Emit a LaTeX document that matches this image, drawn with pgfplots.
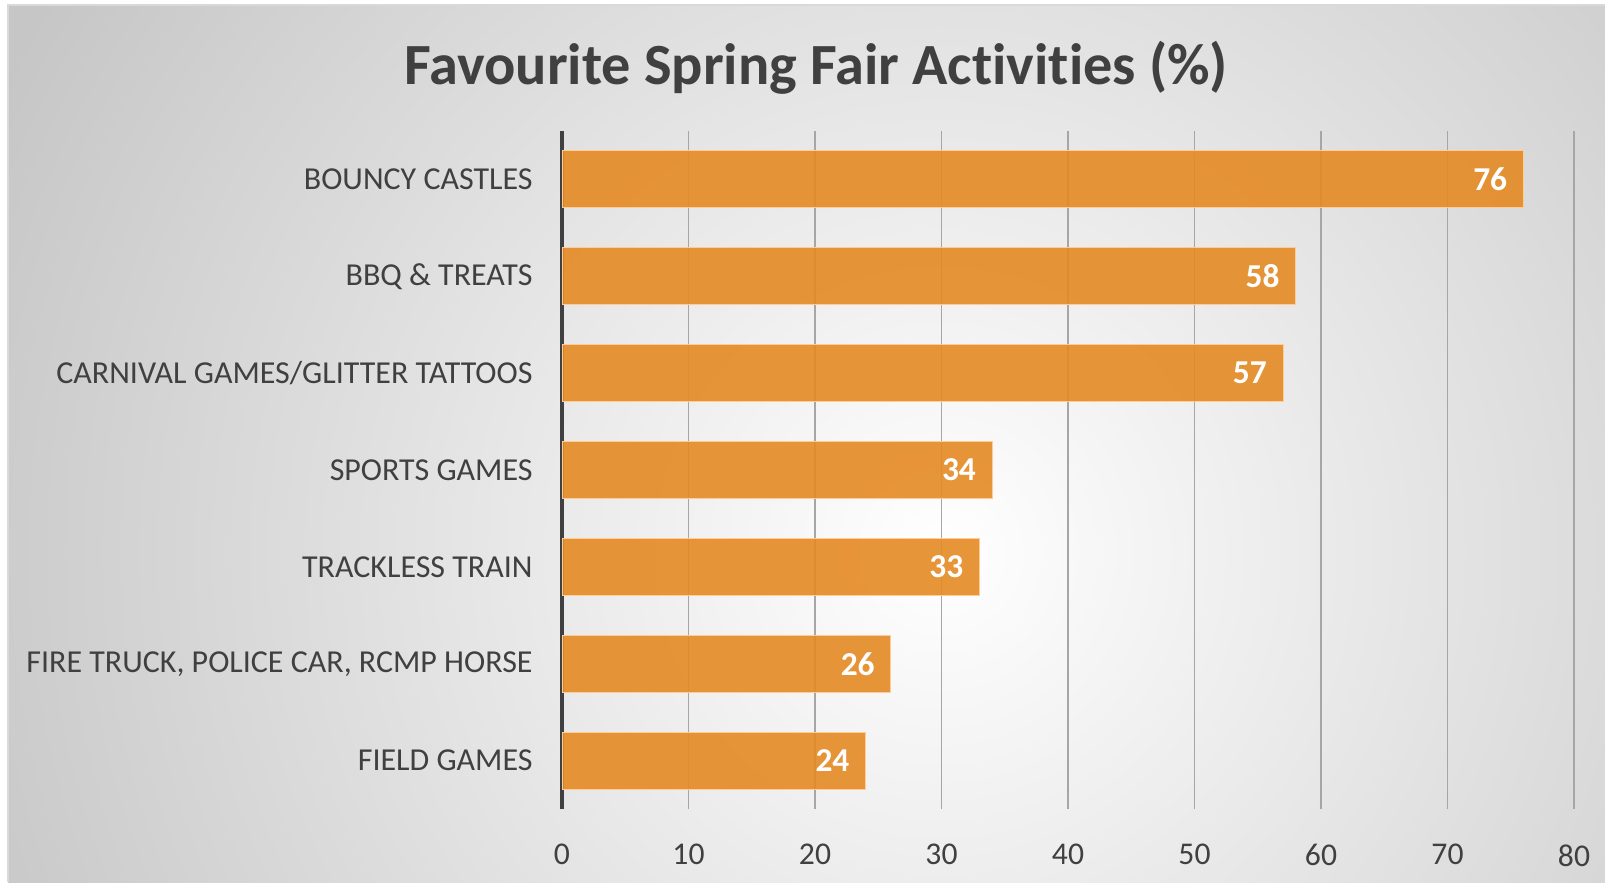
\documentclass[border=0pt]{standalone}
\usepackage{fontspec}
\setmainfont{Carlito}[Ligatures=NoCommon]
\usepackage{pgfplots}
\pgfplotsset{compat=1.18}
\definecolor{barorange}{HTML}{E58A24}
\definecolor{txt}{HTML}{404040}
\definecolor{gridgray}{HTML}{A6A6A6}
\definecolor{bgout}{HTML}{C6C6C6}
% edge of the shaded path sits at 25bp
\pgfdeclareradialshading{bgshade}{\pgfpoint{0bp}{0bp}}{color(0bp)=(white); color(25bp)=(bgout); color(50bp)=(bgout)}

\begin{document}
\begin{tikzpicture}
\path[use as bounding box] (0,0) rectangle (16.05,8.82);
\fill[white] (0,0) rectangle (16.05,8.82);
\begin{scope}
  \clip (0.08,0) rectangle (16.05,8.77);
  \fill[bgout] (0,0) rectangle (16.05,8.82);
  \shade[shading=bgshade] (9.4,3.3) ellipse (10.5 and 10.5);
\end{scope}
\draw[gray!30,line width=0.3pt] (0.08,0) -- (0.08,8.77) -- (16.05,8.77);

\node[font=\fontsize{16.6}{19}\selectfont\bfseries,text=txt] at (8.16,8.14)
  {Favourite Spring Fair Activities (\%)};

\begin{axis}[at={(5.62cm,0.73cm)},anchor=south west,
  width=10.12cm,height=6.78cm,scale only axis,
  xbar,bar width=0.57cm,
  xmin=0,xmax=80,ymin=-0.5,ymax=6.5,
  xtick={0,10,...,80},ytick={0,...,6},
  yticklabels={FIELD GAMES,{FIRE TRUCK, POLICE CAR, RCMP HORSE},TRACKLESS TRAIN,SPORTS GAMES,{CARNIVAL GAMES/GLITTER TATTOOS},BBQ \& TREATS,BOUNCY CASTLES},
  axis lines*=left,
  x axis line style={draw=none},
  y axis line style={draw=txt,line width=0.9pt},
  major tick length=0pt,
  xmajorgrids,grid style={gridgray,line width=0.45pt},
  /pgf/number format/assume math mode=true,
  xticklabel style={font=\fontsize{9}{10}\selectfont,text=txt,yshift=-0.23cm},
  yticklabel style={font=\fontsize{9.1}{11}\selectfont,text=txt,xshift=-0.17cm},
  nodes near coords,
  every node near coord/.append style={anchor=east,xshift=-0.04cm,text=white,
    font=\fontsize{9.5}{11}\selectfont\bfseries,fill opacity=1,text opacity=1},
]
\addplot[fill=barorange,fill opacity=0.9,draw=orange!40,line width=0.3pt]
  coordinates {(24,0) (26,1) (33,2) (34,3) (57,4) (58,5) (76,6)};
\end{axis}
\end{tikzpicture}
\end{document}
